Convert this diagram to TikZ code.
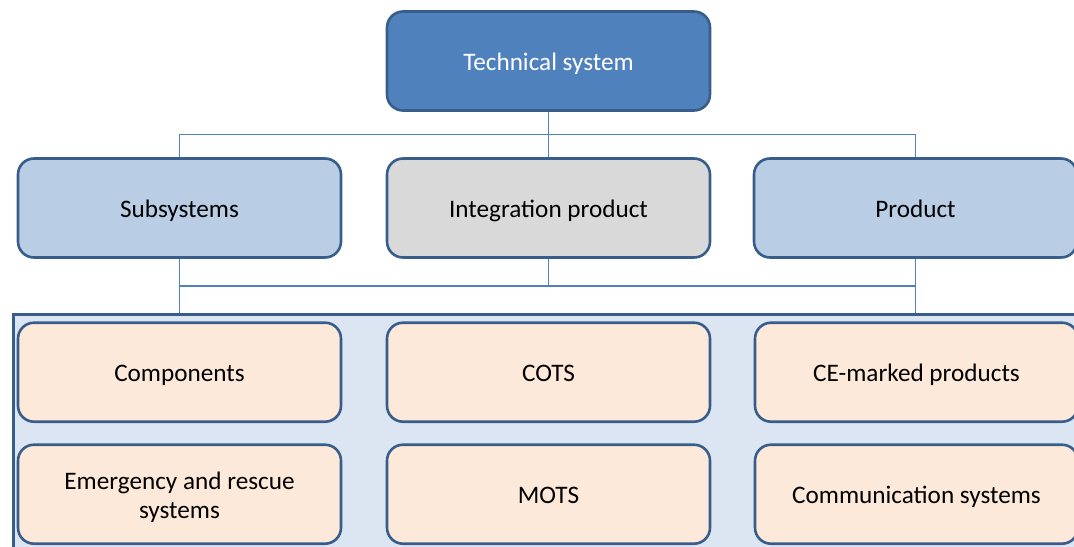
\documentclass[tikz,border=0pt]{standalone}
\usepackage{fontspec}
\setmainfont{Carlito}
\usepackage{tikz}
\usetikzlibrary{positioning, calc}
\definecolor{headblue}{HTML}{4F81BD}
\definecolor{edgeblue}{HTML}{385D8A}
\definecolor{paleblue}{HTML}{B9CDE5}
\definecolor{poolblue}{HTML}{DCE6F2}
\definecolor{peach}{HTML}{FDE9D9}
\definecolor{midgray}{HTML}{D9D9D9}

\begin{document}
\begin{tikzpicture}[
    node distance=22.7pt and 21.7pt,
    % ── box styles ──
    box/.style={rectangle, draw=edgeblue, line width=1.3pt, rounded corners=8pt,
                minimum width=161.5pt, minimum height=49.5pt, align=center,
                text height=10pt, text depth=0.4pt,
                font=\fontsize{12.6}{14.8}\selectfont},
    topbox/.style={box, fill=headblue, text=white},
    groupbox/.style={box, fill=paleblue},
    mixbox/.style={box, fill=midgray},
    itembox/.style={box, fill=peach},
    pool/.style={rectangle, draw=edgeblue, line width=1.3pt, fill=poolblue,
                 minimum width=545pt, minimum height=125pt, inner sep=0pt},
    link/.style={draw=headblue, line width=0.75pt}
]
\path[use as bounding box, clip] (0,0) rectangle (537pt,-273pt);

% ═══ Row 1 ═══
\node[topbox] (tech) at (274.25pt,-30.5pt) {Technical system};

% ═══ Row 2 ═══
\node[mixbox,   below=of tech]   (integ)  {Integration product};
\node[groupbox, left=of integ]   (subsys) {Subsystems};
\node[groupbox, right=20.7pt of integ] (prod) {Product};

% ═══ Item pool ═══
\node[pool, anchor=north west] (items) at (6pt,-156.5pt) {};

\node[itembox, below=31.3pt of subsys] (comp) {Components};
\node[itembox, below=31.3pt of integ]  (cots) {COTS};
\node[itembox, below=31.3pt of prod, xshift=0.5pt] (cemark) {CE-marked products};
\node[itembox, below=10.2pt of comp, text height=24.8pt] (rescue) {Emergency and rescue\\systems};
\node[itembox, below=10.2pt of cots] (mots)   {MOTS};
\node[itembox, below=10.2pt of cemark] (comms) {Communication systems};

% ═══ Upper links ═══
\coordinate (upbus) at ($(tech.south)!0.5!(integ.north)$);
\draw[link] (tech.south) -- (integ.north);
\draw[link] (subsys.north) |- (upbus) -| (prod.north);

% ═══ Lower links ═══
\coordinate (lowbus) at ($(integ.south)!0.5!(integ.south |- items.north)$);
\draw[link] (integ.south) -- (lowbus);
\draw[link] (subsys.south) -- (subsys.south |- items.north);
\draw[link] (prod.south) -- (prod.south |- items.north);
\draw[link] (subsys.south |- lowbus) -- (prod.south |- lowbus);

\end{tikzpicture}
\end{document}
